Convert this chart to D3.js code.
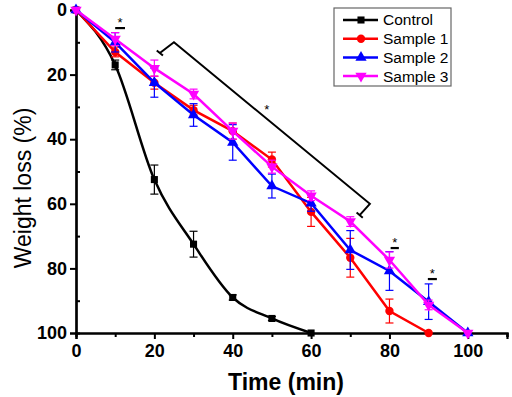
<!DOCTYPE html>
<html>
<head>
<meta charset="utf-8">
<script src="https://cdn.jsdelivr.net/npm/d3@7"></script>
<style>
  html, body { margin: 0; padding: 0; background: #fff; }
  svg { display: block; font-family: "Liberation Sans", Arial, sans-serif; }
</style>
</head>
<body>
<div id="chart"></div>
<script>
// time points (min)
const times = [0, 10, 20, 30, 40, 50, 60, 70, 80, 90, 100];

// weight loss (%) per series, null where the series has ended
const controlValues = [0, 17, 52.5, 72.5, 89, 95.5, 100, null, null, null, null];
const controlErrors = [0, 1.5, 4.5, 4, 0.8, 0.6, 0, 0, 0, 0, 0];
const sample1Values = [0, 13, 22.5, 31, 37.5, 46.3, 62.5, 76.7, 93.2, 100, null];
const sample1Errors = [0, 1.5, 2, 1.5, 2.5, 2.3, 4.5, 6, 3.7, 0, 0];
const sample2Values = [0, 10, 22.5, 32.5, 41, 54.5, 59.8, 74.3, 80.8, 90.3, 100];
const sample2Errors = [0, 3, 4.5, 3.5, 5.5, 3.7, 2.5, 6, 6, 5.5, 0];
const sample3Values = [0, 9, 18, 26, 37.5, 48.5, 57.5, 65.5, 77.4, 91.3, 100];
const sample3Errors = [0, 2, 2.5, 1.5, 2.5, 2, 1.5, 1.5, 2.5, 1.5, 0];

const seriesNames = ["Control", "Sample 1", "Sample 2", "Sample 3"];
const seriesColors = ["#000000", "#ff0000", "#0000ff", "#ff00ff"];
const seriesSymbols = ["square", "circle", "triangleUp", "triangleDown"];

const xTicks = [0, 20, 40, 60, 80, 100];
const xMinorTicks = [10, 30, 50, 70, 90, 110];
const yTicks = [0, 20, 40, 60, 80, 100];
const yMinorTicks = [10, 30, 50, 70, 90];

// significance marks: short bars with a star, in data units
const starBars = [
    { x1: 10, x2: 12.5, y: 5.6 },
    { x1: 80.3, x2: 82.4, y: 73.7 },
    { x1: 89.8, x2: 92.1, y: 83.3 },
];
// long bracket between 20 and 70 min
const bracket = { from: [25, 10], to: [75, 60], legFrom: [21.4, 13.3], legTo: [72.4, 63.5], star: [48.7, 30.5] };

const width = 512, height = 397;
const plot = { left: 76, right: 507, top: 10, bottom: 333 };

const svg = d3.select("#chart").append("svg")
    .attr("width", width)
    .attr("height", height);

const x = d3.scaleLinear().domain([0, 110]).range([plot.left, plot.right]);
const y = d3.scaleLinear().domain([0, 100]).range([plot.top, plot.bottom]);

// axes: minor ticks in their own groups so labels are not clobbered
svg.append("g").attr("transform", `translate(0,${plot.bottom})`)
    .call(d3.axisBottom(x).tickValues(xMinorTicks).tickSize(4).tickFormat(""));
svg.append("g").attr("transform", `translate(${plot.left},0)`)
    .call(d3.axisRight(y).tickValues(yMinorTicks).tickSize(4).tickFormat(""));
const xAxis = svg.append("g").attr("transform", `translate(0,${plot.bottom})`)
    .call(d3.axisBottom(x).tickValues(xTicks).tickSize(6).tickPadding(3));
const yAxis = svg.append("g").attr("transform", `translate(${plot.left},0)`)
    .call(d3.axisLeft(y).tickValues(yTicks).tickSize(6).tickPadding(3));

svg.selectAll(".domain").attr("stroke", "#000").attr("stroke-width", 2.2);
svg.selectAll(".tick line").attr("stroke", "#000").attr("stroke-width", 2);
svg.selectAll(".tick text")
    .attr("fill", "#000")
    .style("font-size", "18px")
    .style("font-weight", "bold");
xAxis.selectAll(".tick text").attr("dy", "0.85em");

svg.append("text")
    .attr("x", 286)
    .attr("y", 390)
    .attr("text-anchor", "middle")
    .style("font-size", "23px")
    .style("font-weight", "bold")
    .text("Time (min)");

svg.append("text")
    .attr("transform", `translate(31,188) rotate(-90)`)
    .attr("text-anchor", "middle")
    .style("font-size", "23px")
    .text("Weight loss (%)");

// series
const allValues = [controlValues, sample1Values, sample2Values, sample3Values];
const allErrors = [controlErrors, sample1Errors, sample2Errors, sample3Errors];

const symbolFor = {
    square: d3.symbol().type(d3.symbolSquare).size(50),
    circle: d3.symbol().type(d3.symbolCircle).size(55),
    triangleUp: d3.symbol().type(d3.symbolTriangle).size(55),
    triangleDown: d3.symbol().type(d3.symbolTriangle).size(55),
};

seriesNames.forEach((name, i) => {
    const pts = times.map((t, j) => ({ t, v: allValues[i][j], e: allErrors[i][j] }))
        .filter((d) => d.v !== null);
    const g = svg.append("g");
    const color = seriesColors[i];

    // error bars
    const eb = g.selectAll(".err").data(pts.filter((d) => d.e > 0)).enter().append("g")
        .attr("stroke", color).attr("stroke-width", 1.2);
    eb.append("line")
        .attr("x1", (d) => x(d.t)).attr("x2", (d) => x(d.t))
        .attr("y1", (d) => y(d.v - d.e)).attr("y2", (d) => y(d.v + d.e));
    [-1, 1].forEach((s) => {
        eb.append("line")
            .attr("x1", (d) => x(d.t) - 4).attr("x2", (d) => x(d.t) + 4)
            .attr("y1", (d) => y(d.v + s * d.e)).attr("y2", (d) => y(d.v + s * d.e));
    });

    const line = d3.line()
        .x((d) => x(d.t)).y((d) => y(d.v))
        .curve(i === 0 ? d3.curveMonotoneX : d3.curveLinear);
    g.append("path").datum(pts)
        .attr("fill", "none")
        .attr("stroke", color)
        .attr("stroke-width", 2.5)
        .attr("d", line);

    const sym = seriesSymbols[i];
    g.selectAll(".pt").data(pts).enter().append("path")
        .attr("fill", color)
        .attr("d", symbolFor[sym]())
        .attr("transform", (d) => `translate(${x(d.t)},${y(d.v)})` + (sym === "triangleDown" ? " rotate(180)" : ""));
});

// significance marks
const marks = svg.append("g").attr("stroke", "#000");
starBars.forEach((b) => {
    marks.append("line")
        .attr("x1", x(b.x1)).attr("x2", x(b.x2))
        .attr("y1", y(b.y)).attr("y2", y(b.y))
        .attr("stroke-width", 2.2);
    svg.append("text")
        .attr("x", x((b.x1 + b.x2) / 2))
        .attr("y", y(b.y) - 1)
        .attr("text-anchor", "middle")
        .style("font-size", "13px")
        .text("*");
});

const bp = (p) => [x(p[0]), y(p[1])];
const [fx, fy] = bp(bracket.from), [tx, ty] = bp(bracket.to);
const [lfx, lfy] = bp(bracket.legFrom), [ltx, lty] = bp(bracket.legTo);
const len = Math.hypot(tx - fx, ty - fy);
const ux = (tx - fx) / len * 4, uy = (ty - fy) / len * 4;
marks.append("path")
    .attr("fill", "none")
    .attr("stroke-width", 2)
    .attr("d", `M${lfx - ux},${lfy - uy}L${lfx + ux},${lfy + uy}M${lfx},${lfy}L${fx},${fy}L${tx},${ty}L${ltx},${lty}M${ltx - ux},${lty - uy}L${ltx + ux},${lty + uy}`);
svg.append("text")
    .attr("x", x(bracket.star[0]))
    .attr("y", y(bracket.star[1]) + 5)
    .attr("text-anchor", "middle")
    .style("font-size", "13px")
    .text("*");

// legend
const legend = svg.append("g").attr("transform", "translate(334,8)");
legend.append("rect")
    .attr("width", 117).attr("height", 78)
    .attr("fill", "#fff").attr("stroke", "#666").attr("stroke-width", 1.2);
seriesNames.forEach((name, i) => {
    const ly = 12 + i * 18.7;
    legend.append("line")
        .attr("x1", 9).attr("x2", 44).attr("y1", ly).attr("y2", ly)
        .attr("stroke", seriesColors[i]).attr("stroke-width", 2.5);
    const sym = seriesSymbols[i];
    legend.append("path")
        .attr("fill", seriesColors[i])
        .attr("d", symbolFor[sym]())
        .attr("transform", `translate(27,${ly})` + (sym === "triangleDown" ? " rotate(180)" : ""));
    legend.append("text")
        .attr("x", 49).attr("y", ly)
        .attr("dy", "0.35em")
        .style("font-size", "15.5px")
        .text(name);
});
</script>
</body>
</html>
